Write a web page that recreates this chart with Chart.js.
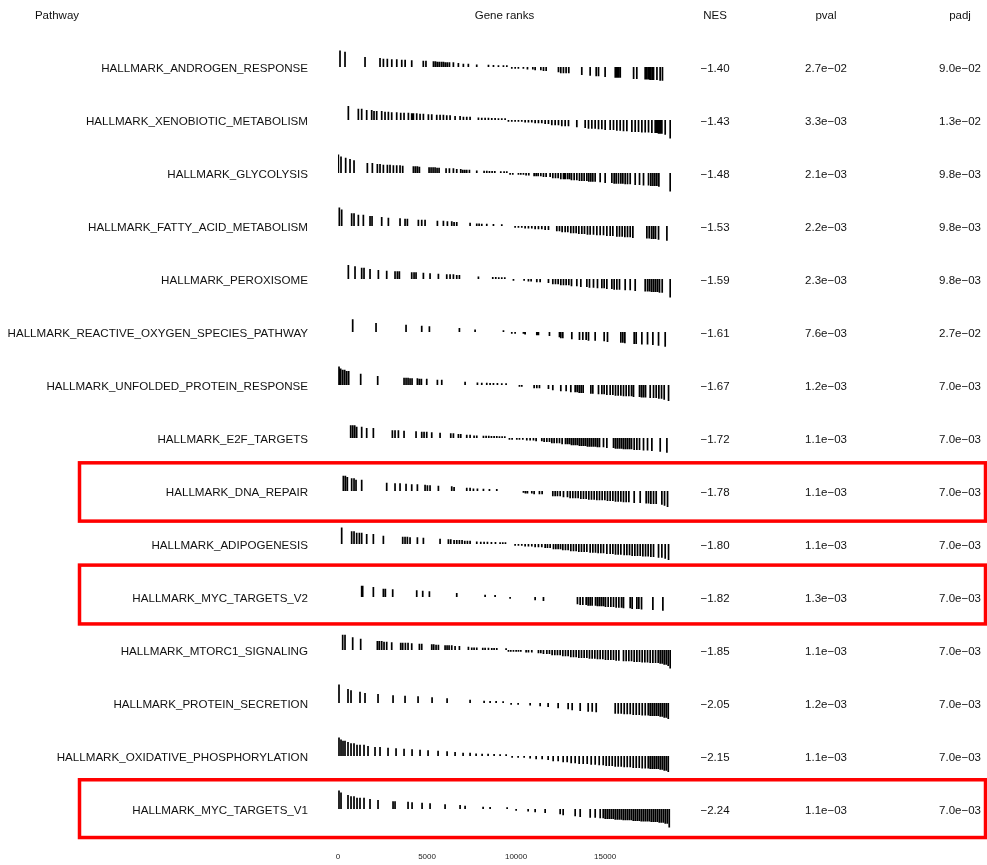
<!DOCTYPE html>
<html>
<head>
<meta charset="utf-8">
<script src="https://cdn.jsdelivr.net/npm/chart.js@4.4.1/dist/chart.umd.min.js"></script>
<style>
  html, body { margin: 0; padding: 0; background: #ffffff; }
  canvas { display: block; }
</style>
</head>
<body>
<canvas id="gsea" width="987" height="865"></canvas>
<script>
// ---- Table data -----------------------------------------------------------
const pathways = [
  'HALLMARK_ANDROGEN_RESPONSE',
  'HALLMARK_XENOBIOTIC_METABOLISM',
  'HALLMARK_GLYCOLYSIS',
  'HALLMARK_FATTY_ACID_METABOLISM',
  'HALLMARK_PEROXISOME',
  'HALLMARK_REACTIVE_OXYGEN_SPECIES_PATHWAY',
  'HALLMARK_UNFOLDED_PROTEIN_RESPONSE',
  'HALLMARK_E2F_TARGETS',
  'HALLMARK_DNA_REPAIR',
  'HALLMARK_ADIPOGENESIS',
  'HALLMARK_MYC_TARGETS_V2',
  'HALLMARK_MTORC1_SIGNALING',
  'HALLMARK_PROTEIN_SECRETION',
  'HALLMARK_OXIDATIVE_PHOSPHORYLATION',
  'HALLMARK_MYC_TARGETS_V1'
];
const nes = [-1.40, -1.43, -1.48, -1.53, -1.59, -1.61, -1.67, -1.72, -1.78, -1.80, -1.82, -1.85, -2.05, -2.15, -2.24];
const pvals = [2.7e-2, 3.3e-3, 2.1e-3, 2.2e-3, 2.3e-3, 7.6e-3, 1.2e-3, 1.1e-3, 1.1e-3, 1.1e-3, 1.3e-3, 1.1e-3, 1.2e-3, 1.1e-3, 1.1e-3];
const padjs = [9.0e-2, 1.3e-2, 9.8e-3, 9.8e-3, 9.8e-3, 2.7e-2, 7.0e-3, 7.0e-3, 7.0e-3, 7.0e-3, 7.0e-3, 7.0e-3, 7.0e-3, 7.0e-3, 7.0e-3];

// Pathways outlined in red
const highlighted = ['HALLMARK_DNA_REPAIR', 'HALLMARK_MYC_TARGETS_V2', 'HALLMARK_MYC_TARGETS_V1'];

// Gene-rank axis
const geneCount = 18700;
const rankTicks = [0, 5000, 10000, 15000];

// Ranked gene statistic (scaled so that max |stat| = 1), as a step table:
// genes with rank below statRankBreaks[i] carry statValues[i]
const statRankBreaks = [100, 250, 450, 700, 1000, 1500, 2000, 2500, 3000, 3500, 4000, 4500, 5000, 5500, 6000, 6500, 7000, 7500, 8000, 8500, 9000, 9500, 10000, 10500, 11000, 11500, 12000, 12500, 13000, 13500, 14000, 14500, 15000, 15500, 16000, 16500, 17000, 17500, 18000, 18300, 18500, 18600, 18701];
const statValues     = [0.97, 0.86, 0.79, 0.73, 0.66, 0.58, 0.52, 0.47, 0.43, 0.40, 0.37, 0.35, 0.32, 0.30, 0.27, 0.24, 0.20, 0.16, 0.13, 0.11, 0.10, 0.09, -0.09, -0.10, -0.13, -0.17, -0.22, -0.28, -0.33, -0.38, -0.42, -0.46, -0.49, -0.53, -0.57, -0.60, -0.63, -0.66, -0.69, -0.73, -0.78, -0.84, -0.97];

// Ranks of pathway genes in the ranked list
const hitsAndrogen = [113, 394, 1518, 2360, 2550, 2770, 3020, 3300, 3580, 3770, 4140, 4790, 4940, 5360, 5470, 5580, 5690, 5810, 5920, 6030, 6140, 6260, 6480, 6760, 7040, 7320, 7790, 8450, 8730, 9010, 9290, 9480, 9760, 9950, 10130, 10410, 10640, 10940, 11070, 11390, 11540, 11690, 12380, 12510, 12660, 12810, 12960, 13690, 14160, 14500, 14630, 15000, 15570, 15660, 15750, 15850, 16600, 16780, 17250, 17340, 17440, 17530, 17630, 17720, 17910, 18090, 18220];
const hitsXenobiotic = [581, 1143, 1330, 1611, 1892, 2023, 2173, 2454, 2641, 2829, 3016, 3297, 3522, 3709, 3953, 4140, 4234, 4421, 4608, 4795, 5076, 5264, 5545, 5732, 5919, 6107, 6294, 6575, 6856, 7043, 7230, 7418, 7886, 8073, 8261, 8448, 8635, 8822, 9010, 9197, 9384, 9572, 9759, 9946, 10133, 10321, 10508, 10695, 10883, 11070, 11257, 11445, 11632, 11819, 12007, 12194, 12381, 12568, 12756, 12943, 13411, 13880, 14067, 14254, 14441, 14629, 14816, 15003, 15284, 15471, 15659, 15846, 16033, 16221, 16502, 16689, 16876, 17064, 17251, 17438, 17626, 17813, 17906, 18000, 18094, 18187, 18374, 18655];
const hitsGlycolysis = [19, 169, 431, 675, 900, 1649, 1930, 2211, 2360, 2548, 2773, 2922, 3110, 3297, 3484, 3634, 4234, 4346, 4458, 4571, 5114, 5226, 5339, 5451, 5563, 5676, 6069, 6256, 6481, 6668, 6893, 7006, 7118, 7230, 7380, 7792, 8204, 8354, 8504, 8654, 8804, 9141, 9328, 9478, 9665, 9815, 10133, 10265, 10414, 10564, 10714, 11014, 11126, 11239, 11389, 11538, 11688, 11913, 12063, 12213, 12363, 12512, 12662, 12756, 12887, 12999, 13112, 13262, 13411, 13561, 13692, 13824, 13973, 14086, 14198, 14310, 14441, 14722, 15003, 15378, 15509, 15621, 15752, 15884, 15996, 16127, 16258, 16408, 16689, 16932, 17157, 17438, 17570, 17683, 17795, 17907, 18019, 18655];
const hitsFattyAcid = [75, 207, 768, 900, 1143, 1424, 1799, 1911, 2454, 2829, 3484, 3765, 3896, 4514, 4702, 4889, 5582, 5919, 6144, 6387, 6519, 6668, 7418, 7792, 7924, 8073, 8354, 8729, 9197, 9946, 10133, 10321, 10508, 10695, 10883, 11070, 11257, 11445, 11632, 11819, 12287, 12437, 12587, 12756, 12905, 13074, 13224, 13374, 13524, 13692, 13842, 14011, 14160, 14348, 14535, 14722, 14910, 15097, 15284, 15434, 15659, 15809, 15959, 16109, 16258, 16408, 16558, 17345, 17476, 17607, 17719, 17831, 18000, 18469];
const hitsPeroxisome = [581, 956, 1330, 1461, 1799, 2267, 2735, 3203, 3334, 3447, 4140, 4271, 4383, 4795, 5170, 5638, 6107, 6294, 6481, 6668, 6818, 7886, 8691, 8860, 9028, 9197, 9366, 9853, 10452, 10695, 10845, 11164, 11351, 11819, 12063, 12213, 12363, 12512, 12662, 12812, 12962, 13112, 13411, 13636, 13973, 14123, 14348, 14572, 14816, 14947, 15097, 15378, 15509, 15659, 15809, 16127, 16408, 16689, 17251, 17382, 17494, 17607, 17719, 17831, 17944, 18056, 18206, 18655];
const hitsReactiveOxygen = [825, 2136, 3821, 4702, 5133, 6818, 7699, 9291, 9759, 9946, 10414, 10508, 11164, 11257, 11875, 12437, 12512, 12624, 13130, 13561, 13748, 13936, 14067, 14441, 14947, 15134, 15884, 15996, 16109, 16633, 16745, 17064, 17382, 17682, 18000, 18374];
const hitsUnfoldedProtein = [57, 150, 263, 375, 487, 600, 1274, 2229, 3709, 3821, 3934, 4046, 4158, 4458, 4571, 4683, 4983, 5582, 5826, 7137, 7830, 8073, 8354, 8541, 8729, 8953, 9197, 9440, 10190, 10321, 11014, 11164, 11313, 11819, 12063, 12512, 12812, 13074, 13318, 13430, 13543, 13655, 13767, 14198, 14310, 14629, 14816, 14947, 15097, 15284, 15434, 15584, 15734, 15884, 16033, 16183, 16333, 16483, 16595, 16932, 17045, 17157, 17270, 17532, 17719, 17869, 18019, 18169, 18318, 18562];
const hitsE2F = [712, 825, 937, 1049, 1330, 1611, 1986, 3054, 3203, 3391, 3709, 4383, 4702, 4833, 4983, 5264, 5732, 6332, 6481, 6762, 6893, 7230, 7418, 7642, 7792, 8167, 8317, 8466, 8616, 8766, 8916, 9066, 9216, 9366, 9628, 9778, 10041, 10190, 10378, 10601, 10789, 10976, 11126, 11445, 11576, 11726, 11875, 12007, 12138, 12287, 12437, 12587, 12774, 12887, 12999, 13112, 13224, 13336, 13449, 13561, 13673, 13786, 13898, 14011, 14123, 14235, 14348, 14460, 14572, 14685, 14910, 15097, 15472, 15584, 15696, 15809, 15921, 16033, 16146, 16258, 16371, 16483, 16633, 16783, 16932, 17157, 17382, 17626, 18094, 18469];
const hitsDnaRepair = [300, 413, 525, 768, 900, 1012, 1330, 2735, 3203, 3484, 3821, 4140, 4458, 4889, 5020, 5170, 5638, 6387, 6519, 7230, 7418, 7605, 7830, 8167, 8504, 8916, 10414, 10527, 10639, 10883, 11014, 11313, 11463, 12063, 12194, 12325, 12475, 12662, 12887, 13037, 13186, 13336, 13486, 13636, 13786, 13936, 14085, 14235, 14385, 14535, 14685, 14835, 14985, 15134, 15284, 15434, 15584, 15734, 15884, 16033, 16183, 16333, 16633, 16970, 17307, 17438, 17570, 17720, 17869, 18187, 18337, 18506];
const hitsAdipogenesis = [207, 768, 900, 1049, 1199, 1330, 1611, 1986, 2548, 3634, 3765, 3896, 4046, 4458, 4795, 5732, 6200, 6332, 6519, 6668, 6818, 6968, 7118, 7268, 7418, 7792, 8017, 8204, 8392, 8616, 8841, 9103, 9253, 9403, 9946, 10133, 10321, 10508, 10695, 10883, 11070, 11257, 11445, 11632, 11763, 11913, 12100, 12231, 12363, 12494, 12625, 12774, 12924, 13074, 13224, 13374, 13524, 13673, 13823, 13973, 14160, 14310, 14460, 14610, 14760, 14910, 15097, 15284, 15434, 15584, 15734, 15884, 16071, 16221, 16371, 16520, 16670, 16820, 16970, 17120, 17270, 17419, 17569, 17719, 18000, 18187, 18374, 18562];
const hitsMycV2 = [1330, 1386, 1986, 2548, 2660, 3072, 4421, 4758, 5133, 6668, 8261, 8822, 9665, 11070, 11538, 13448, 13598, 13748, 13936, 14048, 14160, 14273, 14460, 14573, 14685, 14797, 14910, 15022, 15172, 15322, 15472, 15622, 15771, 15921, 16033, 16408, 16520, 16783, 16895, 17045, 17682, 18244];
const hitsMtorc1 = [263, 394, 825, 1274, 2211, 2323, 2454, 2585, 2735, 3016, 3522, 3634, 3784, 3934, 4140, 4571, 4702, 5264, 5376, 5507, 5638, 6013, 6125, 6238, 6387, 6575, 6818, 7324, 7511, 7642, 7792, 8129, 8261, 8448, 8635, 8766, 8916, 9440, 9572, 9703, 9853, 10003, 10133, 10265, 10564, 10695, 10883, 11257, 11389, 11538, 11726, 11875, 12025, 12175, 12325, 12475, 12625, 12774, 12924, 13074, 13224, 13374, 13524, 13673, 13823, 13973, 14123, 14273, 14423, 14572, 14722, 14872, 15022, 15172, 15322, 15472, 15621, 15771, 16033, 16183, 16333, 16483, 16633, 16783, 16932, 17082, 17232, 17382, 17532, 17682, 17832, 17981, 18094, 18206, 18318, 18431, 18543, 18655];
const hitsProteinSecretion = [56, 562, 731, 1236, 1517, 2248, 3091, 3765, 4496, 5283, 6126, 7418, 8205, 8542, 8880, 9273, 9723, 10116, 10790, 11352, 11801, 12363, 12925, 13150, 13600, 14050, 14275, 14500, 15567, 15736, 15905, 16073, 16242, 16410, 16579, 16748, 16917, 17085, 17253, 17422, 17534, 17647, 17759, 17872, 17984, 18096, 18209, 18321, 18434, 18546];
const hitsOxPhos = [56, 169, 281, 393, 562, 731, 899, 1068, 1236, 1461, 1686, 2079, 2360, 2810, 3260, 3709, 4159, 4608, 5058, 5620, 6126, 6575, 7025, 7418, 7756, 8093, 8430, 8767, 9104, 9442, 9779, 10116, 10453, 10790, 11128, 11465, 11802, 12083, 12364, 12645, 12870, 13095, 13319, 13544, 13769, 13994, 14219, 14443, 14668, 14893, 15062, 15230, 15399, 15567, 15736, 15905, 16073, 16242, 16410, 16579, 16748, 16917, 17085, 17253, 17422, 17534, 17647, 17759, 17872, 17984, 18096, 18209, 18321, 18434, 18546];
const hitsMycV1 = [56, 169, 562, 731, 899, 1068, 1236, 1461, 1798, 2248, 3091, 3203, 3934, 4159, 4721, 5170, 6013, 6856, 7137, 8149, 8542, 9498, 10004, 10678, 11071, 11633, 12476, 12645, 13319, 13600, 14162, 14443, 14724, 14893, 15005, 15118, 15230, 15343, 15455, 15567, 15680, 15792, 15905, 16017, 16129, 16242, 16354, 16467, 16579, 16691, 16804, 16916, 17029, 17141, 17253, 17366, 17478, 17591, 17703, 17815, 17928, 18040, 18152, 18265, 18377, 18490, 18602];

const hitLists = [hitsAndrogen, hitsXenobiotic, hitsGlycolysis, hitsFattyAcid, hitsPeroxisome,
  hitsReactiveOxygen, hitsUnfoldedProtein, hitsE2F, hitsDnaRepair, hitsAdipogenesis,
  hitsMycV2, hitsMtorc1, hitsProteinSecretion, hitsOxPhos, hitsMycV1];

// ---- Drawing ---------------------------------------------------------------
const FONT = '"Liberation Sans", Arial, Helvetica, sans-serif';
const TEXT = '#111111';
const BAR_SCALE = 0.36;     // row units for |stat| = 1
const BASE_SHIFT = -0.03;   // barcode baseline relative to the row centre

function statAt(rank) {
  for (let i = 0; i < statRankBreaks.length; i++) {
    if (rank < statRankBreaks[i]) return statValues[i];
  }
  return statValues[statValues.length - 1];
}

function fmtNum(v, digits) {
  return v.toFixed(digits).replace('-', '\u2212');
}
function fmtExp(v) {
  const [m, e] = v.toExponential(1).split('e');
  const ev = parseInt(e, 10);
  const sign = ev < 0 ? '\u2212' : '+';
  return m + 'e' + sign + String(Math.abs(ev)).padStart(2, '0');
}

const datasets = hitLists.map((hits, i) => {
  const row = i + 1;
  const base = row + BASE_SHIFT;
  const pts = [];
  hits.forEach(r => {
    pts.push({ x: r, y: base });
    pts.push({ x: r, y: base - statAt(r) * BAR_SCALE });
    pts.push({ x: r, y: null });
  });
  return {
    label: pathways[i],
    data: pts,
    showLine: true,
    spanGaps: false,
    borderColor: '#000000',
    borderWidth: 1.7,
    pointRadius: 0,
    pointHoverRadius: 0
  };
});

const highlightTop = [-0.56, -0.63, -0.58];
const highlightBottom = [0.54, 0.48, 0.51];

const tablePlugin = {
  id: 'gseaTable',
  afterDraw(chart) {
    const { ctx, chartArea } = chart;
    const y = chart.scales.y;
    ctx.save();
    ctx.font = '11.5px ' + FONT;
    ctx.fillStyle = TEXT;
    ctx.textAlign = 'center';
    ctx.textBaseline = 'middle';

    const hy = y.getPixelForValue(0);
    ctx.fillText('Pathway', 57, hy);
    ctx.fillText('Gene ranks', (chartArea.left + chartArea.right) / 2, hy);
    ctx.fillText('NES', 715, hy);
    ctx.fillText('pval', 826, hy);
    ctx.fillText('padj', 960, hy);

    pathways.forEach((p, i) => {
      const py = y.getPixelForValue(i + 1);
      ctx.fillText(fmtNum(nes[i], 2), 715, py);
      ctx.fillText(fmtExp(pvals[i]), 826, py);
      ctx.fillText(fmtExp(padjs[i]), 960, py);
    });

    ctx.strokeStyle = '#ff0000';
    ctx.lineWidth = 3.5;
    highlighted.forEach((name, k) => {
      const row = pathways.indexOf(name) + 1;
      const top = y.getPixelForValue(row + highlightTop[k]);
      const bottom = y.getPixelForValue(row + highlightBottom[k]);
      ctx.strokeRect(79.5, top, chart.width - 1.5 - 79.5, bottom - top);
    });
    ctx.restore();
  }
};

new Chart(document.getElementById('gsea'), {
  type: 'scatter',
  data: { datasets },
  options: {
    responsive: false,
    animation: false,
    devicePixelRatio: 1,
    events: [],
    layout: { padding: { top: 42, right: 316, bottom: 0, left: 0 } },
    plugins: {
      legend: { display: false },
      tooltip: { enabled: false },
      title: { display: false }
    },
    scales: {
      x: {
        type: 'linear',
        position: 'bottom',
        min: 0,
        max: geneCount,
        grid: { display: false, drawTicks: false },
        border: { display: false },
        afterFit(scale) {
          scale.height = 28;
          scale.paddingLeft = 0; scale.paddingRight = 0;
        },
        afterBuildTicks(scale) { scale.ticks = rankTicks.map(v => ({ value: v })); },
        ticks: {
          padding: 15.2,
          autoSkip: false,
          maxRotation: 0,
          color: '#222222',
          font: { family: FONT, size: 8 },
          callback: v => String(v)
        }
      },
      y: {
        type: 'linear',
        position: 'left',
        reverse: true,
        min: 0.5,
        max: pathways.length + 0.5,
        grid: { display: false, drawTicks: false },
        border: { display: false },
        afterFit(scale) {
          scale.width = 338;
          scale.paddingTop = 0; scale.paddingBottom = 0;
        },
        afterBuildTicks(scale) { scale.ticks = pathways.map((_, i) => ({ value: i + 1 })); },
        ticks: {
          padding: 30,
          autoSkip: false,
          crossAlign: 'near',
          color: TEXT,
          font: { family: FONT, size: 11.6 },
          callback: v => pathways[v - 1]
        }
      }
    }
  },
  plugins: [tablePlugin]
});
</script>
</body>
</html>
